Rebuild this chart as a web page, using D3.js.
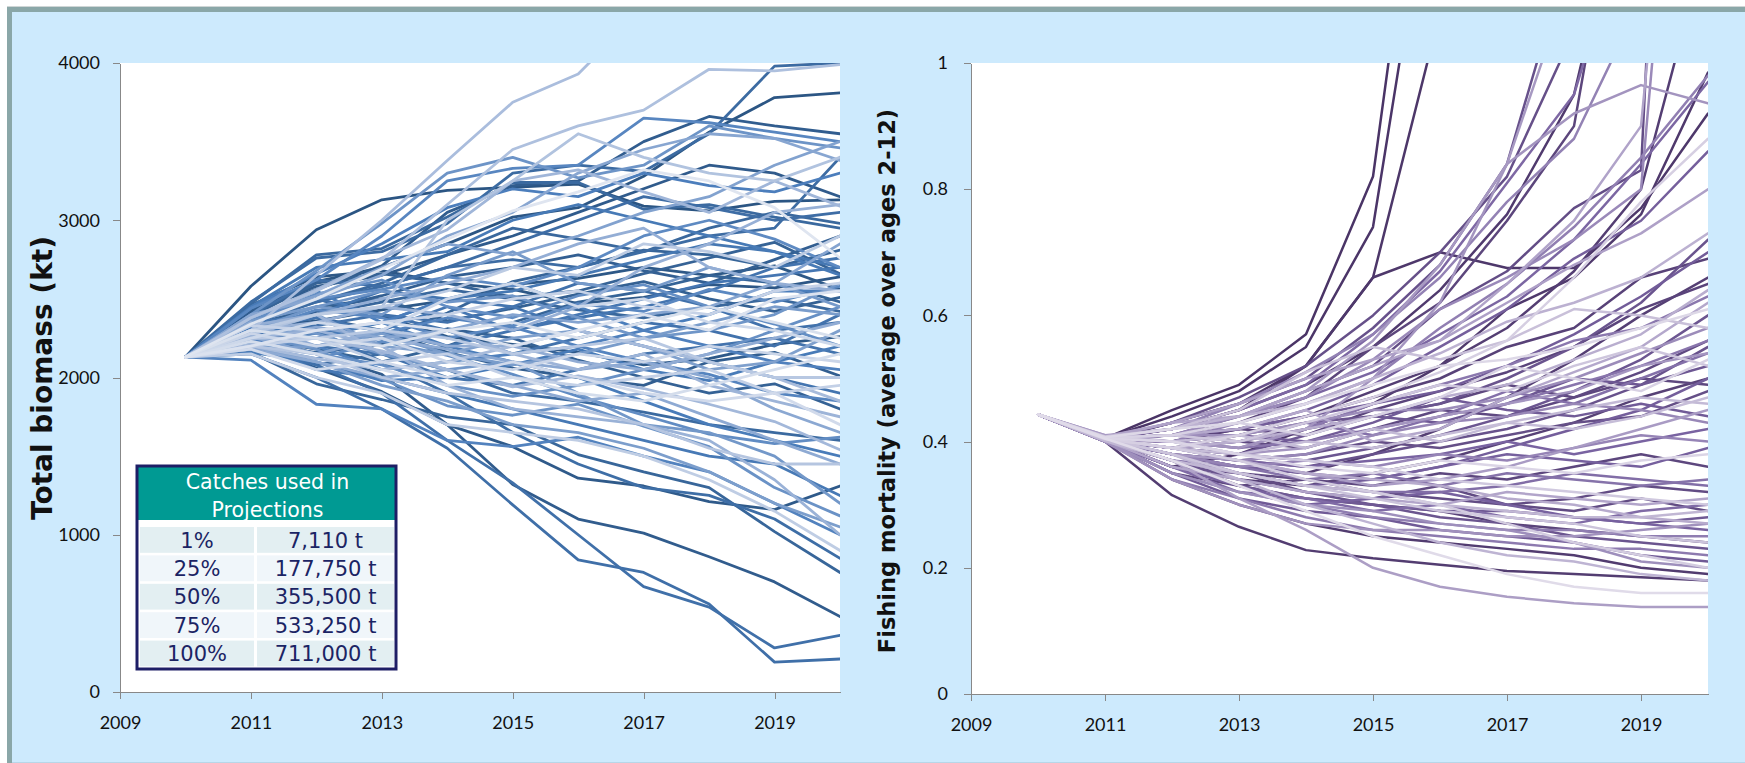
<!DOCTYPE html>
<html lang="en">
<head>
<meta charset="UTF-8">
<title>Projections: total biomass and fishing mortality</title>
<script src="https://d3js.org/d3.v7.min.js"></script>
<style>
  body { margin: 0; background: #fff; }
  .axis path, .axis line { stroke: #888; shape-rendering: crispEdges; }
  .axis .tick text { font-family: Lato, "Open Sans", sans-serif; font-size: 18px; fill: #111; }
  .ytitle { font-family: "DejaVu Sans", Verdana, sans-serif; font-weight: bold; fill: #111; }
  .tbl text { font-family: "DejaVu Sans", Verdana, sans-serif; font-size: 21px; }
  .series path { fill: none; stroke-linejoin: round; stroke-linecap: round; }
</style>
</head>
<body>
<svg id="chart" width="1745" height="763"></svg>
<script>
// projection years (2010 = start point)
const years = [2010, 2011, 2012, 2013, 2014, 2015, 2016, 2017, 2018, 2019, 2020];
const xTicks = [2009, 2011, 2013, 2015, 2017, 2019];
const biomassTicks = [0, 1000, 2000, 3000, 4000];
const mortalityTicks = [0, 0.2, 0.4, 0.6, 0.8, 1];

// total biomass (kt), one row per simulation, dark -> light
const biomass = [
  [2130,2580,2940,3130,3190,3210,3230,3090,3060,3120,3130],
  [2130,2420,2610,2700,2850,3020,3080,3280,3560,3780,3810],
  [2130,2460,2640,2680,2600,2560,2470,2510,2590,2570,2640],
  [2130,2310,2360,2430,2490,2590,2630,2700,2650,2710,2560],
  [2130,2350,2500,2390,2260,2210,2160,2080,2120,2210,2260],
  [2130,2210,2060,1910,1700,1560,1360,1310,1210,1160,1310],
  [2130,2420,2580,2650,2780,2900,3050,3200,3350,3300,3150],
  [2130,2270,2150,2020,1700,1320,1100,1010,860,700,480],
  [2130,2430,2560,2710,3050,3220,3250,3500,3660,3600,3550],
  [2130,2290,2380,2300,2160,2060,2000,1950,2100,2160,2010],
  [2130,2300,2420,2520,2640,2700,2780,2680,2600,2750,2900],
  [2130,2330,2450,2500,2360,2440,2530,2610,2500,2420,2510],
  [2130,2200,2160,2210,2310,2250,2110,2000,1900,1960,1800],
  [2130,2390,2600,2660,2600,2510,2550,2660,2760,2860,2660],
  [2130,2250,2180,2100,2200,2350,2480,2550,2650,2600,2480],
  [2130,2250,2310,2250,2410,2610,2700,2810,2780,2700,2810],
  [2130,2160,1960,1860,1750,1700,1510,1400,1300,1020,760],
  [2130,2300,2400,2480,2560,2500,2430,2380,2450,2500,2420],
  [2130,2350,2480,2600,2780,2950,2880,2800,2950,3050,2980],
  [2130,2470,2780,2820,3020,3240,3240,3070,3100,3020,2950],
  [2130,2190,2080,2150,2050,1900,1850,1780,1700,1650,1600],
  [2130,2480,2760,2800,2980,3300,3350,3310,3550,3980,4000],
  [2130,2340,2480,2580,2700,2750,2700,2800,2900,2950,3400],
  [2130,2400,2620,2580,2700,2850,3000,3150,3080,3000,3050],
  [2130,2260,2300,2100,1900,1650,1450,1300,1250,1100,850],
  [2130,2150,2000,1800,1550,1190,840,760,560,190,210],
  [2130,2180,2080,1900,1600,1330,1000,670,540,280,360],
  [2130,2280,2330,2400,2350,2450,2600,2550,2450,2300,2350],
  [2130,2400,2500,2400,2300,2150,2250,2350,2300,2200,2400],
  [2130,2300,2200,2150,2000,1950,2050,2150,2200,2250,2150],
  [2130,2320,2380,2290,2200,2300,2380,2450,2550,2700,2760],
  [2130,2350,2400,2550,2500,2450,2300,2200,2100,2000,1900],
  [2130,2280,2350,2300,2450,2300,2400,2500,2600,2650,2700],
  [2130,2230,2280,2350,2500,2550,2650,2750,2850,2800,2700],
  [2130,2220,2050,2000,1900,1800,1700,1600,1500,1450,1250],
  [2130,2450,2700,2750,2800,3000,3100,3000,2900,2800,2650],
  [2130,2160,2100,1980,2000,2080,2180,2050,1980,2100,2200],
  [2130,2320,2250,2350,2200,2100,2000,1850,1700,1600,1500],
  [2130,2380,2550,2350,2500,2600,2450,2300,2400,2550,2550],
  [2130,2440,2660,2850,3080,3200,3150,3300,3220,3180,3300],
  [2130,2240,2200,2050,2100,2150,2200,2300,2200,2100,2050],
  [2130,2110,1830,1800,1600,1560,1620,1500,1400,1200,1000],
  [2130,2270,2200,2280,2380,2320,2200,2100,2020,1900,1850],
  [2130,2440,2620,2900,3250,3330,3350,3650,3620,3560,3500],
  [2130,2290,2430,2380,2250,2330,2470,2420,2560,2480,2580],
  [2130,2360,2500,2560,2640,2580,2700,2900,3000,2880,2700],
  [2130,2200,2120,2230,2140,2020,1880,1760,1640,1580,1620],
  [2130,2360,2530,2620,2450,2380,2520,2590,2450,2340,2200],
  [2130,2210,2150,2080,1950,1880,1950,2050,2150,2300,2450],
  [2130,2270,2180,1990,1820,1760,1830,1690,1560,1300,1120],
  [2130,2400,2680,2980,3300,3400,3270,3350,3600,3520,3460],
  [2130,2300,2450,2550,2480,2520,2380,2250,2300,2400,2600],
  [2130,2300,2280,2150,2050,2100,1900,1700,1650,1500,1200],
  [2130,2360,2450,2400,2650,2800,2600,2550,2700,2600,2450],
  [2130,2180,2200,2280,2150,2080,2150,2250,2350,2450,2400],
  [2130,2200,2100,1950,1850,1700,1650,1550,1400,1200,1050],
  [2130,2330,2400,2200,2150,2250,2300,2200,2050,2100,2300],
  [2130,2390,2520,2700,2850,2780,2900,3050,3150,3350,3500],
  [2130,2260,2150,2250,2300,2400,2350,2400,2450,2600,2850],
  [2130,2400,2500,2650,2900,3050,3300,3450,3550,3520,3380],
  [2130,2240,2320,2250,2180,2100,2050,2100,2000,1800,1650],
  [2130,2180,2100,2000,2050,1950,1850,1900,1750,1600,1450],
  [2130,2350,2200,2300,2200,2200,2100,2050,2150,2250,2350],
  [2130,2330,2400,2500,2600,2700,2850,2950,2700,2600,2550],
  [2130,2300,2350,2450,2400,2300,2450,2700,2850,3050,3100],
  [2130,2250,2300,2200,1950,1800,1750,1700,1600,1350,1000],
  [2130,2270,2400,2150,2300,2150,2050,2150,1950,1850,1750],
  [2130,2380,2560,2760,2940,3250,3320,3180,3050,3250,3090],
  [2130,2210,2250,2170,2050,1940,2010,1930,1830,1720,1540],
  [2130,2200,2120,2050,2100,2200,2300,2200,2100,2000,1850],
  [2130,2300,2650,3000,3380,3750,3930,4350,4700,5000,5200],
  [2130,2380,2550,2750,3100,3450,3600,3700,3960,3950,3990],
  [2130,2280,2400,2450,3000,3250,3550,3400,3300,3250,3400],
  [2130,2200,2150,2000,1900,1850,1800,1700,1550,1450,1450],
  [2130,2250,2250,2300,2250,2150,2200,2250,2100,2000,2000],
  [2130,2300,2400,2450,2550,2700,2650,2850,2800,2700,2900],
  [2130,2150,2000,1900,1700,1650,1600,1500,1350,1150,900],
  [2130,2200,2250,2100,2150,2000,1950,2000,2050,1900,1950],
  [2130,2330,2300,2350,2400,2500,2550,2450,2400,2550,2600],
  [2130,2280,2200,2250,2100,2050,2150,2100,2200,2150,2100],
  [2130,2250,2350,2300,2500,2600,2450,2500,2350,2300,2200],
  [2130,2180,2050,2100,2000,2100,2000,1900,1850,1900,1700],
  [2130,2230,2150,2050,1950,2000,1900,1850,1950,2050,2150],
  [2130,2300,2250,2200,2300,2350,2250,2350,2450,2350,2250],
  [2130,2200,2300,2350,2300,2200,2300,2400,2300,2500,2550],
  [2130,2340,2500,2690,2880,3060,3180,3320,3250,3080,2760]
];

// fishing mortality (average over ages 2-12), dark -> light
const mortality = [
  [0.443,0.405,0.45,0.49,0.57,0.82,1.6,2,2,2,2],
  [0.443,0.405,0.44,0.48,0.55,0.74,1.4,2,2,2,2],
  [0.443,0.403,0.43,0.46,0.52,0.66,1.08,1.6,2,2,2],
  [0.443,0.404,0.42,0.45,0.52,0.66,0.70,0.675,0.675,0.77,0.92],
  [0.443,0.400,0.36,0.38,0.42,0.46,0.52,0.61,0.66,0.76,0.985],
  [0.443,0.404,0.42,0.45,0.49,0.55,0.64,0.76,0.95,1.4,2],
  [0.443,0.401,0.34,0.30,0.27,0.25,0.24,0.23,0.22,0.20,0.19],
  [0.443,0.400,0.315,0.265,0.228,0.215,0.205,0.195,0.19,0.185,0.18],
  [0.443,0.402,0.39,0.41,0.44,0.48,0.52,0.58,0.67,0.80,1.2],
  [0.443,0.403,0.38,0.36,0.35,0.38,0.42,0.47,0.53,0.60,0.66],
  [0.443,0.401,0.36,0.34,0.33,0.35,0.37,0.40,0.43,0.47,0.50],
  [0.443,0.404,0.40,0.42,0.44,0.47,0.50,0.55,0.58,0.66,0.69],
  [0.443,0.402,0.37,0.33,0.31,0.30,0.29,0.27,0.26,0.25,0.24],
  [0.443,0.403,0.40,0.42,0.41,0.45,0.48,0.51,0.55,0.61,0.65],
  [0.443,0.405,0.41,0.43,0.47,0.55,0.62,0.75,0.90,1.5,2],
  [0.443,0.401,0.35,0.33,0.34,0.33,0.35,0.34,0.36,0.38,0.36],
  [0.443,0.405,0.41,0.40,0.42,0.44,0.46,0.49,0.47,0.50,0.49],
  [0.443,0.402,0.39,0.40,0.39,0.42,0.45,0.44,0.47,0.51,0.56],
  [0.443,0.403,0.36,0.35,0.32,0.31,0.33,0.30,0.29,0.31,0.29],
  [0.443,0.402,0.37,0.35,0.34,0.32,0.31,0.30,0.31,0.33,0.32],
  [0.443,0.404,0.41,0.44,0.48,0.52,0.61,0.67,0.77,0.83,3],
  [0.443,0.402,0.38,0.37,0.38,0.40,0.39,0.41,0.43,0.44,0.48],
  [0.443,0.404,0.43,0.47,0.52,0.60,0.70,0.82,1.05,2,2],
  [0.443,0.405,0.43,0.46,0.50,0.58,0.68,0.84,1.2,2,2],
  [0.443,0.401,0.38,0.37,0.36,0.38,0.40,0.42,0.45,0.49,0.55],
  [0.443,0.404,0.40,0.41,0.43,0.44,0.46,0.50,0.55,0.62,0.72],
  [0.443,0.401,0.37,0.34,0.32,0.30,0.28,0.27,0.25,0.24,0.23],
  [0.443,0.403,0.39,0.38,0.37,0.39,0.41,0.44,0.48,0.53,0.60],
  [0.443,0.403,0.39,0.38,0.41,0.44,0.43,0.46,0.50,0.49,0.52],
  [0.443,0.400,0.36,0.33,0.31,0.30,0.29,0.29,0.28,0.27,0.28],
  [0.443,0.400,0.35,0.31,0.29,0.28,0.26,0.25,0.24,0.22,0.21],
  [0.443,0.402,0.40,0.41,0.40,0.43,0.47,0.45,0.44,0.46,0.44],
  [0.443,0.406,0.41,0.42,0.44,0.46,0.48,0.52,0.57,0.63,0.70],
  [0.443,0.404,0.38,0.35,0.33,0.34,0.36,0.39,0.42,0.45,0.50],
  [0.443,0.403,0.41,0.42,0.45,0.49,0.55,0.61,0.69,0.75,0.86],
  [0.443,0.402,0.38,0.36,0.35,0.34,0.36,0.38,0.37,0.36,0.39],
  [0.443,0.401,0.36,0.33,0.30,0.31,0.32,0.30,0.28,0.27,0.26],
  [0.443,0.402,0.39,0.37,0.36,0.37,0.38,0.40,0.38,0.40,0.42],
  [0.443,0.405,0.42,0.44,0.47,0.51,0.57,0.63,0.72,0.84,0.97],
  [0.443,0.405,0.42,0.45,0.49,0.57,0.67,0.81,0.95,1.3,2],
  [0.443,0.401,0.36,0.32,0.31,0.29,0.30,0.28,0.27,0.29,0.30],
  [0.443,0.403,0.37,0.35,0.33,0.32,0.32,0.33,0.35,0.34,0.33],
  [0.443,0.403,0.39,0.40,0.43,0.41,0.44,0.48,0.46,0.50,0.54],
  [0.443,0.402,0.37,0.36,0.34,0.35,0.33,0.35,0.34,0.33,0.34],
  [0.443,0.404,0.40,0.39,0.40,0.42,0.44,0.46,0.49,0.52,0.56],
  [0.443,0.404,0.40,0.39,0.42,0.46,0.49,0.52,0.56,0.58,0.63],
  [0.443,0.401,0.34,0.31,0.28,0.26,0.25,0.24,0.23,0.23,0.22],
  [0.443,0.401,0.35,0.32,0.30,0.28,0.27,0.26,0.26,0.25,0.25],
  [0.443,0.403,0.40,0.43,0.46,0.50,0.58,0.65,0.74,0.85,0.98],
  [0.443,0.406,0.42,0.46,0.51,0.57,0.66,0.78,0.88,1.1,2],
  [0.443,0.402,0.38,0.36,0.37,0.36,0.38,0.37,0.39,0.41,0.40],
  [0.443,0.402,0.39,0.37,0.38,0.41,0.43,0.44,0.46,0.45,0.43],
  [0.443,0.405,0.41,0.44,0.47,0.53,0.61,0.66,0.72,0.80,2],
  [0.443,0.404,0.41,0.41,0.43,0.45,0.45,0.47,0.50,0.54,0.58],
  [0.443,0.400,0.35,0.32,0.30,0.29,0.27,0.26,0.24,0.21,0.20],
  [0.443,0.400,0.34,0.30,0.27,0.26,0.26,0.25,0.25,0.26,0.27],
  [0.443,0.410,0.40,0.39,0.42,0.50,0.62,0.84,0.92,0.965,0.936],
  [0.443,0.405,0.40,0.38,0.39,0.42,0.44,0.46,0.48,0.52,0.54],
  [0.443,0.410,0.42,0.44,0.48,0.56,0.68,0.84,1.15,1.8,2],
  [0.443,0.403,0.38,0.37,0.35,0.33,0.34,0.36,0.39,0.42,0.45],
  [0.443,0.405,0.37,0.31,0.26,0.20,0.17,0.154,0.144,0.138,0.138],
  [0.443,0.407,0.43,0.46,0.50,0.53,0.56,0.62,0.68,0.73,0.80],
  [0.443,0.408,0.43,0.44,0.48,0.52,0.56,0.65,0.75,0.90,2],
  [0.443,0.402,0.36,0.34,0.32,0.31,0.30,0.32,0.31,0.30,0.31],
  [0.443,0.406,0.41,0.42,0.45,0.40,0.42,0.47,0.51,0.55,0.62],
  [0.443,0.404,0.39,0.37,0.35,0.34,0.33,0.31,0.30,0.28,0.27],
  [0.443,0.404,0.39,0.40,0.42,0.44,0.47,0.49,0.53,0.57,0.64],
  [0.443,0.407,0.42,0.44,0.46,0.50,0.54,0.59,0.62,0.66,0.73],
  [0.443,0.405,0.38,0.34,0.30,0.27,0.24,0.22,0.21,0.19,0.18],
  [0.443,0.401,0.37,0.35,0.33,0.32,0.30,0.29,0.28,0.28,0.29],
  [0.443,0.406,0.40,0.41,0.39,0.42,0.40,0.43,0.45,0.47,0.46],
  [0.443,0.404,0.39,0.38,0.40,0.39,0.41,0.43,0.42,0.44,0.47],
  [0.443,0.408,0.42,0.45,0.51,0.55,0.53,0.56,0.61,0.60,0.58],
  [0.443,0.405,0.38,0.35,0.33,0.31,0.29,0.28,0.27,0.25,0.24],
  [0.443,0.406,0.41,0.40,0.43,0.46,0.49,0.48,0.52,0.55,0.52],
  [0.443,0.407,0.40,0.38,0.37,0.36,0.34,0.33,0.32,0.31,0.30],
  [0.443,0.405,0.39,0.37,0.34,0.32,0.30,0.27,0.24,0.22,0.20],
  [0.443,0.404,0.39,0.41,0.44,0.47,0.51,0.56,0.66,0.78,0.88],
  [0.443,0.406,0.41,0.43,0.41,0.44,0.47,0.52,0.50,0.48,0.53],
  [0.443,0.405,0.40,0.38,0.36,0.35,0.37,0.36,0.35,0.37,0.38],
  [0.443,0.407,0.42,0.43,0.46,0.49,0.52,0.53,0.55,0.58,0.61],
  [0.443,0.405,0.37,0.33,0.29,0.25,0.22,0.19,0.17,0.16,0.16]
];

// inset table
const catchPct = ["1%", "25%", "50%", "75%", "100%"];
const catchTonnes = ["7,110 t", "177,750 t", "355,500 t", "533,250 t", "711,000 t"];

const svg = d3.select("#chart");

// background frame
svg.append("rect").attr("x", 7).attr("y", 7).attr("width", 1745).attr("height", 756).attr("fill", "#cdeafd");
svg.append("line").attr("x1", 7).attr("x2", 1745).attr("y1", 6.5).attr("y2", 6.5).attr("stroke", "#cfd6d6").attr("stroke-width", 1);
svg.append("line").attr("x1", 7).attr("x2", 1745).attr("y1", 9.5).attr("y2", 9.5).attr("stroke", "#8aa7a8").attr("stroke-width", 5);
svg.append("line").attr("x1", 9.5).attr("x2", 9.5).attr("y1", 7).attr("y2", 763).attr("stroke", "#8aa7a8").attr("stroke-width", 5);
svg.append("line").attr("x1", 12).attr("x2", 1745).attr("y1", 762.5).attr("y2", 762.5).attr("stroke", "#b7d6e8").attr("stroke-width", 1);

function drawPanel(opt) {
  const x = d3.scaleLinear().domain([2009, 2020]).range([opt.left, opt.right]);
  const y = d3.scaleLinear().domain(opt.yDomain).range([opt.bottom, opt.top]);

  svg.append("rect")
    .attr("x", opt.left).attr("y", opt.top)
    .attr("width", opt.right - opt.left).attr("height", opt.bottom - opt.top)
    .attr("fill", "#fff");

  svg.append("clipPath").attr("id", opt.id)
    .append("rect")
    .attr("x", opt.left).attr("y", opt.top)
    .attr("width", opt.right - opt.left).attr("height", opt.bottom - opt.top);

  const color = d3.scaleLinear()
    .domain([0, 0.45, 0.8, 1])
    .range(opt.palette)
    .interpolate(d3.interpolateRgb);

  const line = d3.line()
    .x((d, i) => x(years[i]))
    .y(d => y(d));

  const n = opt.series.length;
  svg.append("g")
    .attr("class", "series")
    .attr("clip-path", `url(#${opt.id})`)
    .selectAll("path")
    .data(opt.series)
    .join("path")
    .attr("d", line)
    .attr("stroke", (d, i) => color(i / (n - 1)))
    .attr("stroke-width", opt.lineWidth);

  svg.append("g")
    .attr("class", "axis")
    .attr("transform", `translate(0,${opt.bottom})`)
    .call(d3.axisBottom(x).tickValues(xTicks).tickFormat(d3.format("d"))
      .tickSize(7).tickSizeOuter(0).tickPadding(17));

  svg.append("g")
    .attr("class", "axis")
    .attr("transform", `translate(${opt.left},0)`)
    .call(d3.axisLeft(y).tickValues(opt.yTicks).tickFormat(opt.fmt)
      .tickSize(7).tickSizeOuter(0).tickPadding(opt.yPad));

  svg.append("text")
    .attr("class", "ytitle")
    .attr("transform", `translate(${opt.titleX},${opt.titleY}) rotate(-90)`)
    .attr("text-anchor", "middle")
    .style("font-size", opt.titleSize + "px")
    .text(opt.title);
}

drawPanel({
  id: "clipL", left: 120, right: 840, top: 63, bottom: 692,
  yDomain: [0, 4000], yTicks: biomassTicks, fmt: d3.format("d"), yPad: 13,
  series: biomass, lineWidth: 2.8,
  palette: ["#2b5583", "#4a7dbb", "#a3b8da", "#dfe5f0"],
  title: "Total biomass (kt)", titleX: 52, titleY: 378, titleSize: 28
});

drawPanel({
  id: "clipR", left: 971, right: 1708, top: 63, bottom: 694,
  yDomain: [0, 1], yTicks: mortalityTicks, fmt: d3.format("~g"), yPad: 16,
  series: mortality, lineWidth: 2.5,
  palette: ["#4a3466", "#7862a0", "#b6aacd", "#e0dbe9"],
  title: "Fishing mortality (average over ages 2-12)", titleX: 895, titleY: 381, titleSize: 22.5
});

// inset table
const tbl = svg.append("g").attr("class", "tbl");
const tx = 137, tw = 259, ty = 466, th = 203, headH = 54;
tbl.append("rect").attr("x", tx).attr("y", ty).attr("width", tw).attr("height", th).attr("fill", "#fff");
tbl.append("rect").attr("x", tx).attr("y", ty).attr("width", tw).attr("height", headH).attr("fill", "#009a93");

svg.append("clipPath").attr("id", "clipHead")
  .append("rect").attr("x", tx).attr("y", ty).attr("width", tw).attr("height", headH);
const head = tbl.append("g").attr("clip-path", "url(#clipHead)");
head.append("text").attr("x", tx + tw / 2 + 1).attr("y", 489).attr("text-anchor", "middle")
  .attr("fill", "#fff").style("font-size", "20.5px").text("Catches used in");
head.append("text").attr("x", tx + tw / 2 + 1).attr("y", 517).attr("text-anchor", "middle")
  .attr("fill", "#fff").style("font-size", "20.5px").text("Projections");

const rowTop = 527, rowStep = 28.4, rowH = 25.8;
const col1 = [140, 254], col2 = [257, 394];
const rows = tbl.selectAll("g.row")
  .data(catchPct.map((p, i) => ({ pct: p, t: catchTonnes[i], i })))
  .join("g").attr("class", "row");
rows.append("rect").attr("x", col1[0]).attr("y", d => rowTop + d.i * rowStep)
  .attr("width", col1[1] - col1[0]).attr("height", rowH)
  .attr("fill", d => d.i % 2 ? "#f0f6fa" : "#e3eff2");
rows.append("rect").attr("x", col2[0]).attr("y", d => rowTop + d.i * rowStep)
  .attr("width", col2[1] - col2[0]).attr("height", rowH)
  .attr("fill", d => d.i % 2 ? "#f0f6fa" : "#e3eff2");
rows.append("text").attr("x", (col1[0] + col1[1]) / 2).attr("y", d => rowTop + d.i * rowStep + 20.5)
  .attr("text-anchor", "middle").attr("fill", "#1b2464").text(d => d.pct);
rows.append("text").attr("x", (col2[0] + col2[1]) / 2).attr("y", d => rowTop + d.i * rowStep + 20.5)
  .attr("text-anchor", "middle").attr("fill", "#1b2464").text(d => d.t);

tbl.append("rect").attr("x", tx).attr("y", ty).attr("width", tw).attr("height", th)
  .attr("fill", "none").attr("stroke", "#1e1e66").attr("stroke-width", 3);
</script>
</body>
</html>
